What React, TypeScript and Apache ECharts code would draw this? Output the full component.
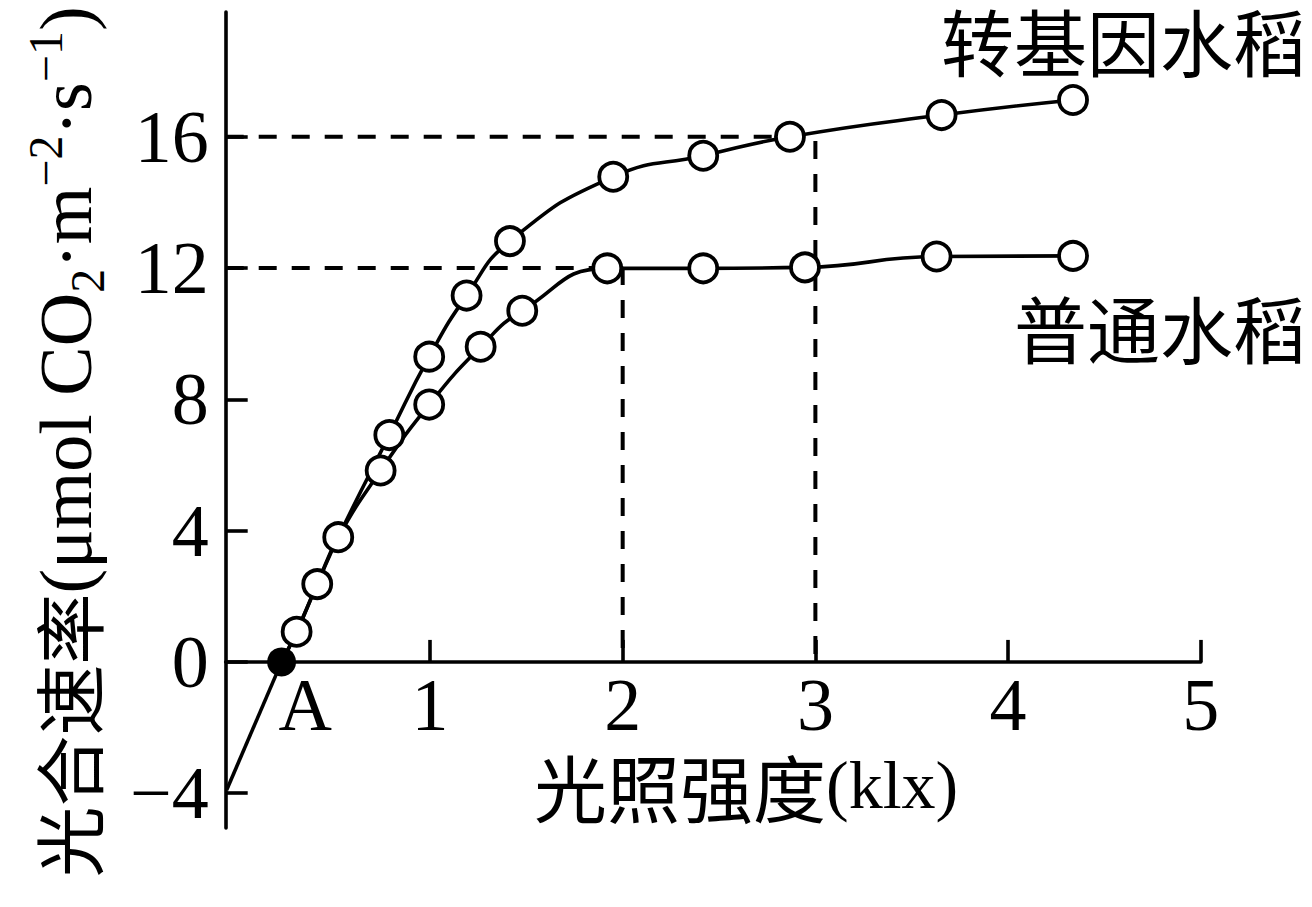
import * as echarts from 'echarts';
import React, { useEffect, useRef } from 'react';

// axis ranges (the y axis sits a little left of x = 0 in the original figure)
const xMin = -0.06;
const xMax = 5;
const yMin = -5.06;
const yMax = 19.8;

// straight start: from the y axis up to the light compensation point A
const startX = [-0.055, 0.23];
const startY = [-3.9, 0];

// points shared by both curves after A
const sharedX = [0.23, 0.308, 0.415, 0.524];
const sharedY = [0, 0.92, 2.37, 3.8];

// 普通水稻
const normalX = [0.744, 0.996, 1.263, 1.479, 1.92, 2.418, 2.946, 3.629, 4.337];
const normalY = [5.83, 7.84, 9.6, 10.7, 11.99, 11.99, 12.02, 12.35, 12.37];

// 转基因水稻
const transX = [0.789, 0.996, 1.19, 1.415, 1.951, 2.418, 2.868, 3.655, 4.337];
const transY = [6.91, 9.3, 11.16, 12.82, 14.78, 15.42, 16.0, 16.66, 17.12];

const xTickValues = [1, 2, 3, 4, 5];
const xLabelValues = [0.352, 1, 2, 3, 4, 5];
const yTickValues = [-4, 0, 4, 8, 12, 16];

// dashed reading guides
const guide16X = [xMin, 3, 3];
const guide16Y = [16, 16, 0];
const guide12X = [xMin, 2, 2];
const guide12Y = [12, 12, 0];

const serif = '"Liberation Serif", "Times New Roman", serif';
const cjk = '"Noto Sans CJK SC", "Noto Sans", sans-serif';

const gridTop = 12;
const gridBottom = 79;
const plotHeight = 907 - gridTop - gridBottom;
// move the x axis up from the grid bottom to y = 0
const xAxisOffset = -(plotHeight * (0 - yMin)) / (yMax - yMin);

const zip = (xs: number[], ys: number[]) => xs.map((x, i) => [x, ys[i]]);

const App: React.FC = () => {
  const chartRef = useRef<HTMLDivElement>(null);

  useEffect(() => {
    if (!chartRef.current) return;
    const chart = echarts.init(chartRef.current, null, { renderer: 'svg' });

    const lineStyle = { color: '#000', width: 3.6 };

    const curveLine = (xs: number[], ys: number[]) => ({
      type: 'line',
      data: [...zip(sharedX, sharedY), ...zip(xs, ys)],
      smooth: 0.5,
      showSymbol: false,
      symbol: 'none',
      lineStyle,
      z: 2,
    });

    const guide = (xs: number[], ys: number[]) => ({
      type: 'line',
      data: zip(xs, ys),
      symbol: 'none',
      lineStyle: { color: '#000', width: 4, type: [18, 15] },
      z: 1,
    });

    const openPoints = [
      ...zip(sharedX.slice(1), sharedY.slice(1)),
      ...zip(normalX, normalY),
      ...zip(transX, transY),
    ];

    chart.setOption({
      animation: false,
      backgroundColor: '#fff',
      grid: { left: 225.7, right: 111.2, top: gridTop, bottom: gridBottom },
      xAxis: {
        type: 'value',
        min: xMin,
        max: xMax,
        offset: xAxisOffset,
        axisLine: { onZero: false, lineStyle },
        axisTick: {
          inside: true,
          length: 22,
          customValues: xTickValues,
          lineStyle,
        },
        axisLabel: {
          customValues: xLabelValues,
          formatter: (v: number) => (v < 0.5 ? 'A' : String(v)),
          fontFamily: serif,
          fontSize: 74,
          lineHeight: 60,
          color: '#000',
          margin: 13,
        },
        splitLine: { show: false },
      },
      yAxis: {
        type: 'value',
        min: yMin,
        max: yMax,
        axisLine: { onZero: false, lineStyle },
        axisTick: {
          inside: true,
          length: 22,
          customValues: yTickValues,
          lineStyle,
        },
        axisLabel: {
          customValues: yTickValues,
          formatter: (v: number) => (v < 0 ? '\u2212' + Math.abs(v) : String(v)),
          fontFamily: serif,
          fontSize: 74,
          color: '#000',
          margin: 17,
        },
        splitLine: { show: false },
      },
      series: [
        guide(guide16X, guide16Y),
        guide(guide12X, guide12Y),
        {
          type: 'line',
          data: zip(startX, startY),
          symbol: 'none',
          lineStyle,
          z: 2,
        },
        curveLine(normalX, normalY),
        curveLine(transX, transY),
        {
          type: 'scatter',
          data: openPoints,
          symbol: 'circle',
          symbolSize: 28,
          itemStyle: { color: '#fff', borderColor: '#000', borderWidth: 3.8, opacity: 1 },
          z: 3,
        },
        {
          type: 'scatter',
          data: [[sharedX[0], sharedY[0]]],
          symbol: 'circle',
          symbolSize: 29,
          itemStyle: { color: '#000', opacity: 1 },
          z: 3,
        },
      ],
      graphic: [
        {
          type: 'text',
          x: 1306,
          y: 39,
          style: {
            text: '转基因水稻',
            fontFamily: cjk,
            fontSize: 73,
            lineHeight: 74,
            fill: '#000',
            align: 'right',
            verticalAlign: 'middle',
          },
        },
        {
          type: 'text',
          x: 1306,
          y: 326,
          style: {
            text: '普通水稻',
            fontFamily: cjk,
            fontSize: 73,
            lineHeight: 74,
            fill: '#000',
            align: 'right',
            verticalAlign: 'middle',
          },
        },
        {
          type: 'text',
          x: 534,
          y: 785,
          style: {
            text: '{cn|光照强度}{la|(klx)}',
            align: 'left',
            verticalAlign: 'middle',
            rich: {
              cn: { fontFamily: cjk, fontSize: 73, color: '#000', lineHeight: 76 },
              la: { fontFamily: serif, fontSize: 68, color: '#000', lineHeight: 76 },
            },
          },
        },
        {
          type: 'text',
          x: 66,
          y: 442,
          rotation: Math.PI / 2,
          style: {
            text: '{cn|光合速率}{la|(μmol CO}{sub|2}{la|·m}{sup|\u22122}{la|·s}{sup|\u22121}{la|)}',
            align: 'center',
            verticalAlign: 'middle',
            rich: {
              cn: { fontFamily: cjk, fontSize: 71, color: '#000', lineHeight: 90 },
              la: { fontFamily: serif, fontSize: 74, color: '#000', lineHeight: 90 },
              sub: { fontFamily: serif, fontSize: 48, color: '#000', lineHeight: 48, verticalAlign: 'bottom' },
              sup: { fontFamily: serif, fontSize: 48, color: '#000', lineHeight: 48, verticalAlign: 'top' },
            },
          },
        },
      ],
    });

    return () => {
      chart.dispose();
    };
  }, []);

  return (
    <div
      ref={chartRef}
      style={{ position: 'fixed', left: 0, top: 0, width: 1312, height: 907, background: '#fff' }}
    />
  );
};

export default App;
